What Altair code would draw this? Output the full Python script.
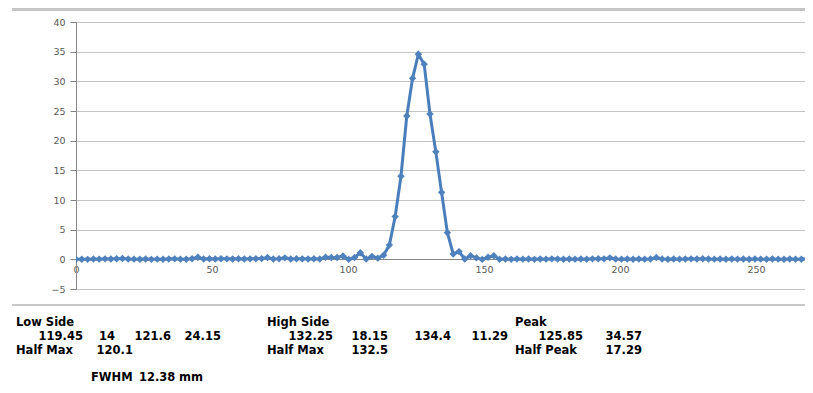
import altair as alt
import pandas as pd

# ---- data ----
position_mm = [
    0.0, 2.13, 4.27, 6.4, 8.53, 10.67, 12.8, 14.93, 17.07, 19.2,
    21.33, 23.47, 25.6, 27.73, 29.87, 32.0, 34.13, 36.27, 38.4, 40.53,
    42.67, 44.8, 46.93, 49.07, 51.2, 53.33, 55.47, 57.6, 59.73, 61.87,
    64.0, 66.13, 68.27, 70.4, 72.53, 74.67, 76.8, 78.93, 81.07, 83.2,
    85.33, 87.47, 89.6, 91.73, 93.87, 96.0, 98.13, 100.27, 102.4, 104.53,
    106.67, 108.8, 110.93, 113.07, 115.2, 117.33, 119.47, 121.6, 123.73, 125.87,
    128.0, 130.13, 132.27, 134.4, 136.53, 138.67, 140.8, 142.93, 145.07, 147.2,
    149.33, 151.47, 153.6, 155.73, 157.87, 160.0, 162.13, 164.27, 166.4, 168.53,
    170.67, 172.8, 174.93, 177.07, 179.2, 181.33, 183.47, 185.6, 187.73, 189.87,
    192.0, 194.13, 196.27, 198.4, 200.53, 202.67, 204.8, 206.93, 209.07, 211.2,
    213.33, 215.47, 217.6, 219.73, 221.87, 224.0, 226.13, 228.27, 230.4, 232.53,
    234.67, 236.8, 238.93, 241.07, 243.2, 245.33, 247.47, 249.6, 251.73, 253.87,
    256.0, 258.13, 260.27, 262.4, 264.53, 266.67, 268.8, 270.93,
]
signal = [
    0.0, 0.02, 0.0, 0.05, 0.03, 0.08, 0.05, 0.1, 0.15, 0.05,
    0.03, 0.02, 0.05, 0.0, 0.03, 0.02, 0.05, 0.08, 0.03, 0.02,
    0.1, 0.35, 0.05, 0.1, 0.05, 0.1, 0.08, 0.05, 0.1, 0.05,
    0.08, 0.1, 0.12, 0.3, 0.05, 0.1, 0.25, 0.05, 0.1, 0.08,
    0.05, 0.1, 0.05, 0.35, 0.3, 0.3, 0.55, 0.0, 0.3, 1.1,
    0.05, 0.5, 0.2, 0.7, 2.4, 7.2, 14.0, 24.15, 30.5, 34.57,
    32.9, 24.5, 18.15, 11.29, 4.5, 0.9, 1.3, 0.05, 0.6, 0.25,
    0.0, 0.35, 0.6, 0.0, 0.05, 0.0, 0.05, 0.03, 0.05, 0.0,
    0.05, 0.03, 0.08, 0.05, 0.02, 0.05, 0.03, 0.05, 0.02, 0.08,
    0.1, 0.08, 0.25, 0.05, 0.03, 0.05, 0.02, 0.05, 0.03, 0.05,
    0.3, 0.05, 0.02, 0.05, 0.03, 0.05, 0.08, 0.05, 0.1, 0.05,
    0.03, 0.05, 0.02, 0.05, 0.03, 0.05, 0.02, 0.05, 0.03, 0.02,
    0.05, 0.03, 0.02, 0.05, 0.03, 0.02, 0.05, 0.03,
]
x_ticks = [0, 50, 100, 150, 200, 250]
y_ticks = [-5, 0, 5, 10, 15, 20, 25, 30, 35, 40]

# table text below the chart
table_labels = [
    "Low Side", "High Side", "Peak",
    "119.45", "14", "121.6", "24.15", "132.25", "18.15", "134.4", "11.29", "125.85", "34.57",
    "Half Max", "120.1", "Half Max", "132.5", "Half Peak", "17.29",
    "FWHM", "12.38", "mm",
]
# layout (page px): x anchor, y centre, alignment
table_layout = [
    (16, 323, "left"), (267, 323, "left"), (515, 323, "left"),
    (83, 337, "right"), (115, 337, "right"), (171, 337, "right"), (221, 337, "right"),
    (333, 337, "right"), (388, 337, "right"), (451, 337, "right"), (508, 337, "right"),
    (583, 337, "right"), (642, 337, "right"),
    (16, 351, "left"), (133, 351, "right"), (267, 351, "left"), (388, 351, "right"),
    (515, 351, "left"), (642, 351, "right"),
    (91, 378, "left"), (139, 378, "left"), (179, 378, "left"),
]

PLOT_LEFT, PLOT_TOP = 76, 22
W, H = 729, 267
BLUE = "#4A7EBB"

df = pd.DataFrame({"pos": position_mm, "val": signal})

xenc = alt.X("pos:Q", scale=alt.Scale(domain=[0, 268], nice=False, zero=False),
             axis=alt.Axis(values=x_ticks, grid=False, ticks=False, offset=-30,
                           labelPadding=5, labelFlush=False, domainColor="#868686", title=None,
                           labelFont="DejaVu Sans", labelFontSize=9.5, labelColor="#595959"))
yenc = alt.Y("val:Q", scale=alt.Scale(domain=[-5, 40], nice=False),
             axis=alt.Axis(values=y_ticks, grid=True, gridColor="#c4c4c4", tickColor="#868686",
                           tickSize=6, labelPadding=5, domainColor="#868686", title=None,
                           labelFont="DejaVu Sans", labelFontSize=9.5, labelColor="#595959"))

line = alt.Chart(df).mark_line(color=BLUE, strokeWidth=3, clip=True).encode(x=xenc, y=yenc)
pts = alt.Chart(df).mark_point(shape="diamond", filled=True, color="#4F81BD", size=55,
                               opacity=1, clip=True).encode(x=xenc, y=yenc)

one = pd.DataFrame({"a": [0]})
top_rule = alt.Chart(one).mark_rule(color="#c4c4c4", strokeWidth=3).encode(
    x=alt.value(12 - PLOT_LEFT), x2=alt.value(W), y=alt.value(9.5 - PLOT_TOP))
sep_rule = alt.Chart(one).mark_rule(color="#c8c8c8", strokeWidth=2).encode(
    x=alt.value(12 - PLOT_LEFT), x2=alt.value(W), y=alt.value(305 - PLOT_TOP))

texts = []
for label, (px, py, al) in zip(table_labels, table_layout):
    texts.append(
        alt.Chart(one).mark_text(text=label, align=al, baseline="middle",
                                 font="DejaVu Sans", fontWeight="bold", fontSize=11.5,
                                 color="#000000").encode(
            x=alt.value(px - PLOT_LEFT), y=alt.value(py - PLOT_TOP))
    )

chart = alt.layer(line, pts, top_rule, sep_rule, *texts).properties(
    width=W, height=H,
    autosize=alt.AutoSizeParams(type="none"),
    padding={"left": 68, "top": 14, "right": 0, "bottom": 96},
).configure_view(stroke=None)

chart.save("out.html", embed_options={"renderer": "svg", "actions": False})
